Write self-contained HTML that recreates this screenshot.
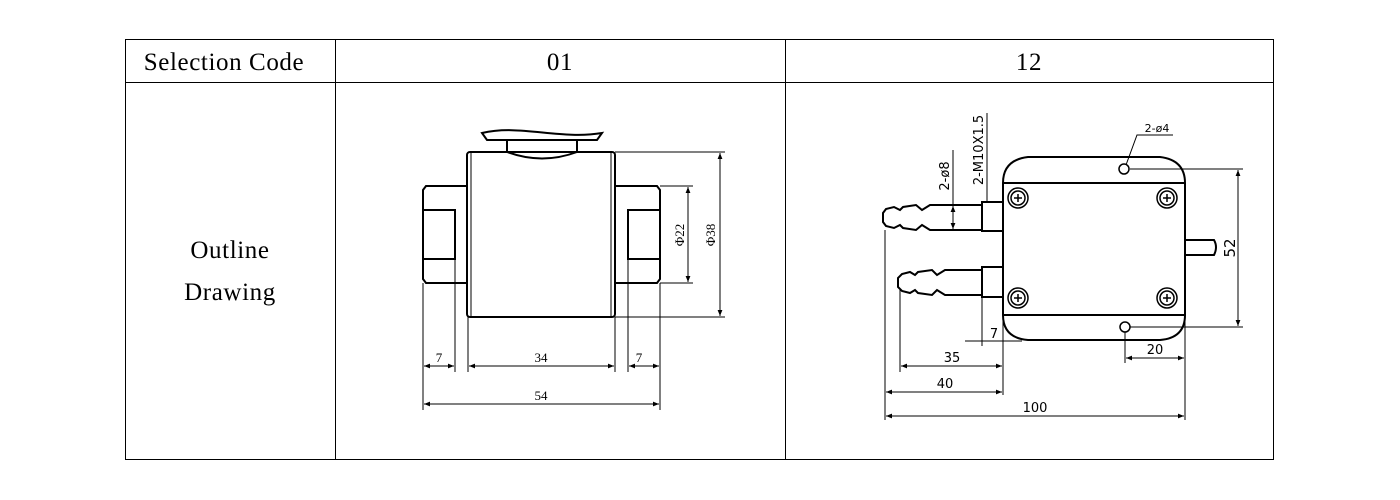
<!DOCTYPE html>
<html><head><meta charset="utf-8"><style>
html,body{margin:0;padding:0;background:#fff;}
svg{display:block}
</style></head><body>
<svg width="1400" height="500" viewBox="0 0 1400 500" xmlns="http://www.w3.org/2000/svg">
<defs>
<marker id="a" viewBox="0 0 10 10" refX="10" refY="5" markerWidth="10" markerHeight="6" orient="auto-start-reverse" markerUnits="userSpaceOnUse"><path d="M0,1 L10,5 L0,9 z" fill="#000"/></marker>
</defs>
<g fill="none" stroke="#000" stroke-width="1">
<rect x="125.5" y="39.5" width="1148" height="420"/>
<line x1="125" y1="82.5" x2="1273" y2="82.5"/>
<line x1="335.5" y1="39" x2="335.5" y2="459"/>
<line x1="785.5" y1="39" x2="785.5" y2="459"/>
</g>
<g font-family="Liberation Serif, serif" font-size="25" letter-spacing="0.6" text-anchor="middle" fill="#000">
<text x="224" y="70">Selection Code</text>
<text x="560" y="70">01</text>
<text x="1029" y="70">12</text>
<text x="230" y="258">Outline</text>
<text x="230" y="300">Drawing</text>
</g>
<!-- Drawing 1 -->
<g fill="none" stroke="#000" stroke-width="2">
<path d="M482,133 C520,124 560,140 602,133 L597,140 L487,140 Z"/>
<path d="M507,140 L507,152 Q542,165 577,152 L577,140"/>
<rect x="467" y="152" width="148" height="165" rx="3"/>
<line x1="471" y1="153" x2="471" y2="316" stroke-width="1"/>
<line x1="611" y1="153" x2="611" y2="316" stroke-width="1"/>
<path d="M467,186 L426,186 L423,190 L423,279 L426,283 L467,283"/>
<rect x="423" y="210" width="32" height="49"/>
<path d="M615,186 L657,186 L660,190 L660,279 L657,283 L615,283"/>
<rect x="628" y="210" width="32" height="49"/>
</g>
<g fill="none" stroke="#000" stroke-width="1">
<line x1="615" y1="152" x2="725" y2="152"/>
<line x1="615" y1="317" x2="725" y2="317"/>
<line x1="660" y1="186" x2="693" y2="186"/>
<line x1="660" y1="283" x2="693" y2="283"/>
<line x1="688" y1="187" x2="688" y2="282" marker-start="url(#a)" marker-end="url(#a)"/>
<line x1="720" y1="153" x2="720" y2="316" marker-start="url(#a)" marker-end="url(#a)"/>
<line x1="423" y1="283" x2="423" y2="410"/>
<line x1="455" y1="259" x2="455" y2="372"/>
<line x1="468" y1="317" x2="468" y2="372"/>
<line x1="615" y1="317" x2="615" y2="372"/>
<line x1="628" y1="259" x2="628" y2="372"/>
<line x1="660" y1="283" x2="660" y2="410"/>
<line x1="424" y1="366" x2="454" y2="366" marker-start="url(#a)" marker-end="url(#a)"/>
<line x1="469" y1="366" x2="614" y2="366" marker-start="url(#a)" marker-end="url(#a)"/>
<line x1="629" y1="366" x2="659" y2="366" marker-start="url(#a)" marker-end="url(#a)"/>
<line x1="424" y1="404" x2="659" y2="404" marker-start="url(#a)" marker-end="url(#a)"/>
</g>
<g font-family="Liberation Serif, serif" font-size="13" fill="#000" text-anchor="middle">
<text x="439" y="362">7</text>
<text x="541" y="362">34</text>
<text x="639" y="362">7</text>
<text x="541" y="400">54</text>
<text transform="translate(684,235) rotate(-90)">Φ22</text>
<text transform="translate(715,235) rotate(-90)">Φ38</text>
</g>
<!-- Drawing 2 -->
<g fill="none" stroke="#000" stroke-width="2">
<path d="M1028,157 L1160,157 Q1185,160 1185,183 L1185,315 Q1185,338 1160,340 L1028,340 Q1003,338 1003,315 L1003,183 Q1003,160 1028,157 Z"/>
<line x1="1003" y1="183" x2="1185" y2="183"/>
<line x1="1003" y1="315" x2="1185" y2="315"/>
<rect x="982" y="202" width="21" height="29"/>
<rect x="982" y="267" width="21" height="30"/>
<path d="M982,205 L930,205 L922,210 L916,205 L903,207 L900,210 L894,207 L886,209 L883,213 L883,222 L886,226 L894,228 L900,225 L903,228 L916,230 L922,225 L930,230 L982,230"/>
<path d="M982,270 L945,270 L937,275 L932,270 L918,272 L915,275 L910,272 L902,274 L898,278 L898,287 L902,291 L910,293 L915,290 L918,293 L932,295 L937,290 L945,295 L982,295"/>
<path d="M1185,240 L1214,240 Q1218,247 1214,255 L1185,255"/>
</g>
<g fill="none" stroke="#000" stroke-width="1.5">
<circle cx="1018" cy="198" r="10"/><circle cx="1018" cy="198" r="7"/>
<circle cx="1167" cy="198" r="10"/><circle cx="1167" cy="198" r="7"/>
<circle cx="1018" cy="298" r="10"/><circle cx="1018" cy="298" r="7"/>
<circle cx="1167" cy="298" r="10"/><circle cx="1167" cy="298" r="7"/>
<path d="M1014,198h8M1018,194v8M1163,198h8M1167,194v8M1014,298h8M1018,294v8M1163,298h8M1167,294v8"/>
<circle cx="1124" cy="169" r="5"/>
<circle cx="1125" cy="327" r="5"/>
</g>
<g fill="none" stroke="#000" stroke-width="1">
<path d="M1126,165 L1137,135 L1173,135"/>
<line x1="1130" y1="169" x2="1243" y2="169"/>
<line x1="1130" y1="327" x2="1243" y2="327"/>
<line x1="1238" y1="170" x2="1238" y2="326" marker-start="url(#a)" marker-end="url(#a)"/>
<line x1="953" y1="150" x2="953" y2="230"/>
<line x1="987" y1="113" x2="987" y2="202"/>
<line x1="953" y1="206" x2="953" y2="229" marker-start="url(#a)" marker-end="url(#a)"/>
<line x1="982" y1="297" x2="982" y2="346"/>
<line x1="1003" y1="315" x2="1003" y2="395"/>
<line x1="965" y1="341" x2="1022" y2="341"/>
<line x1="900" y1="290" x2="900" y2="372"/>
<line x1="885" y1="230" x2="885" y2="420"/>
<line x1="1185" y1="315" x2="1185" y2="420"/>
<line x1="1125" y1="332" x2="1125" y2="363"/>
<line x1="901" y1="366" x2="1002" y2="366" marker-start="url(#a)" marker-end="url(#a)"/>
<line x1="886" y1="392" x2="1002" y2="392" marker-start="url(#a)" marker-end="url(#a)"/>
<line x1="886" y1="416" x2="1184" y2="416" marker-start="url(#a)" marker-end="url(#a)"/>
<line x1="1126" y1="358" x2="1184" y2="358" marker-start="url(#a)" marker-end="url(#a)"/>
</g>
<g font-family="DejaVu Sans, Liberation Sans, sans-serif" font-size="13" fill="#000" text-anchor="middle">
<text x="994" y="338">7</text>
<text x="952" y="362">35</text>
<text x="945" y="388">40</text>
<text x="1035" y="412">100</text>
<text x="1155" y="354">20</text>
<text x="1157" y="132" font-size="11">2-ø4</text>
<text transform="translate(949,176) rotate(-90)">2-ø8</text>
<text transform="translate(983,150) rotate(-90)">2-M10X1.5</text>
<text transform="translate(1235,248) rotate(-90)" font-size="15">52</text>
</g>
</svg>
</body></html>
